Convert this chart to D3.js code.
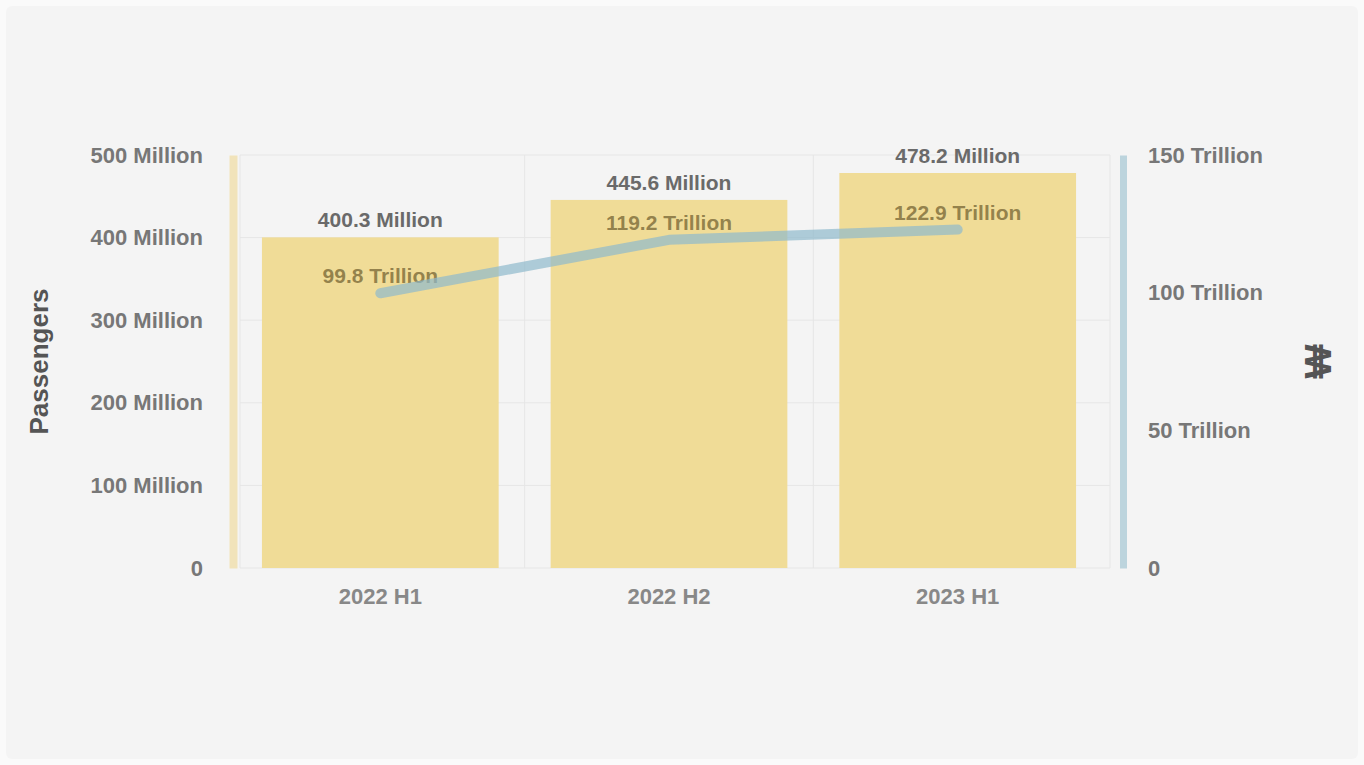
<!DOCTYPE html>
<html><head><meta charset="utf-8">
<script src="https://cdn.jsdelivr.net/npm/d3@7"></script>
<style>
html,body{margin:0;padding:0;background:#fafafa;}
#wrap{position:absolute;left:6px;top:6px;width:1352px;height:753px;background:#f4f4f4;border-radius:6px;}
svg{font-family:"Liberation Sans",Arial,sans-serif;}
</style></head>
<body><div id="wrap"><svg id="c" width="1352" height="753"></svg></div>
<script>
const categories = ["2022 H1", "2022 H2", "2023 H1"];
const passengers = [400.3, 445.6, 478.2];          // Million
const revenue = [99.8, 119.2, 122.9];              // Trillion
const leftTicks = [0, 100, 200, 300, 400, 500];
const rightTicks = [0, 50, 100, 150];
const leftTitle = "Passengers";
const rightTitle = "₩";

(function () {
const svg = d3.select("#c");
const g = svg.append("g").attr("transform", "translate(-6,-6)");
const pTop = 155, pBottom = 568, pLeft = 240, pRight = 1110;
const FONT = "Liberation Sans, Arial, sans-serif";

const x = d3.scaleBand().domain(categories).range([pLeft, 1098]).paddingInner(0.18).paddingOuter(0.076);
const yL = d3.scaleLinear().domain([0, 500]).range([pBottom, pTop]);
const yR = d3.scaleLinear().domain([0, 150]).range([pBottom, pTop]);

// grid
g.append("g").selectAll("line").data(leftTicks).join("line")
  .attr("x1", pLeft).attr("x2", pRight).attr("y1", d => yL(d)).attr("y2", d => yL(d))
  .attr("stroke", "#e6e6e6").attr("stroke-width", 1);
const vx = i => i === 0 ? pLeft : (i === 3 ? pRight : x(categories[i]) - x.step() * x.paddingInner() / 2);
g.append("g").selectAll("line").data([0, 1, 2, 3]).join("line")
  .attr("x1", vx).attr("x2", vx)
  .attr("y1", pTop).attr("y2", pBottom).attr("stroke", "#e6e6e6");

// bars
g.append("g").selectAll("rect").data(categories).join("rect")
  .attr("x", d => x(d)).attr("width", x.bandwidth())
  .attr("y", (d, i) => yL(passengers[i])).attr("height", (d, i) => pBottom - yL(passengers[i]))
  .attr("fill", "#f0dc97");

// bar labels
g.append("g").selectAll("text").data(categories).join("text")
  .attr("x", d => x(d) + x.bandwidth() / 2).attr("y", (d, i) => yL(passengers[i]) - 10)
  .attr("text-anchor", "middle").attr("font-size", 21).attr("font-weight", "bold").attr("fill", "#6a6a6a")
  .text((d, i) => passengers[i].toFixed(1) + " Million");

// line labels
g.append("g").selectAll("text").data(revenue).join("text")
  .attr("x", (d, i) => x(categories[i]) + x.bandwidth() / 2).attr("y", d => yR(d) - 10)
  .attr("text-anchor", "middle").attr("font-size", 21).attr("font-weight", "bold").attr("fill", "#6b5a2a").attr("fill-opacity", 0.7)
  .text(d => d.toFixed(1) + " Trillion");

// line
const line = d3.line().x((d, i) => x(categories[i]) + x.bandwidth() / 2).y(d => yR(d));
g.append("path").datum(revenue).attr("d", line).attr("fill", "none")
  .attr("stroke", "#8fb9cc").attr("stroke-opacity", 0.7).attr("stroke-width", 10)
  .attr("stroke-linejoin", "round").attr("stroke-linecap", "round");

// left axis
const axL = g.append("g").attr("transform", `translate(${pLeft - 7},0)`)
  .call(d3.axisLeft(yL).tickValues(leftTicks).tickSize(0).tickPadding(30)
    .tickFormat(d => d === 0 ? "0" : d + " Million"));
axL.select(".domain").attr("stroke", "#f1e3ba").attr("stroke-width", 8);
axL.selectAll("text").attr("font-size", 22).attr("font-weight", "bold").attr("fill", "#777").attr("font-family", FONT);

// right axis
const axR = g.append("g").attr("transform", `translate(${pRight + 13},0)`)
  .call(d3.axisRight(yR).tickValues(rightTicks).tickSize(0).tickPadding(25)
    .tickFormat(d => d === 0 ? "0" : d + " Trillion"));
axR.select(".domain").attr("stroke", "#bcd4dd").attr("stroke-width", 7);
axR.selectAll("text").attr("font-size", 22).attr("font-weight", "bold").attr("fill", "#777").attr("font-family", FONT);

// x axis
const axX = g.append("g").attr("transform", `translate(0,${pBottom})`)
  .call(d3.axisBottom(x).tickSize(0).tickPadding(20));
axX.select(".domain").remove();
axX.selectAll("text").attr("font-size", 22).attr("font-weight", "bold").attr("fill", "#888").attr("font-family", FONT);

// axis titles
g.append("text").attr("transform", `translate(48,${(pTop + pBottom) / 2}) rotate(-90)`)
  .attr("text-anchor", "middle").attr("font-size", 26).attr("font-weight", "bold").attr("fill", "#555")
  .text(leftTitle);
g.append("text").attr("transform", `translate(1331,${(pTop + pBottom) / 2}) rotate(-90)`)
  .attr("text-anchor", "middle").attr("font-size", 36).attr("font-weight", "bold").attr("fill", "#555")
  .text(rightTitle);
})();
</script></body></html>
